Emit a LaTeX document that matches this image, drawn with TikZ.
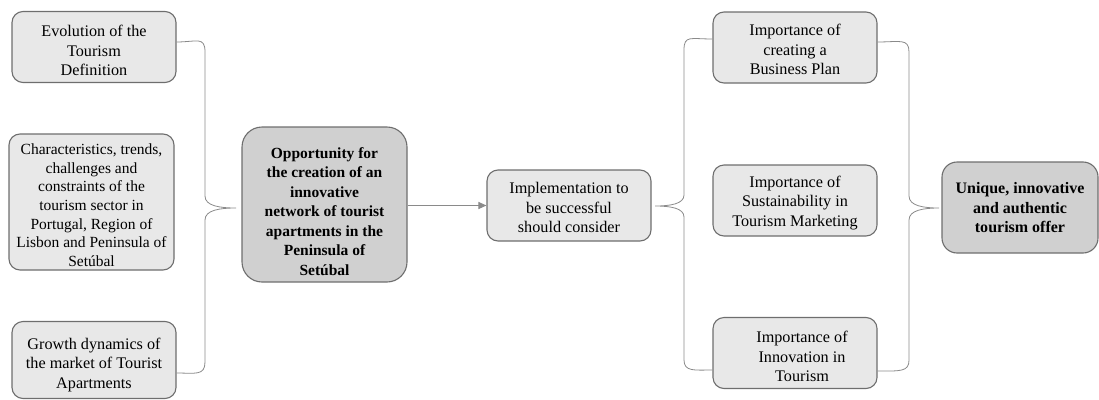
\documentclass[tikz,border=0pt]{standalone}
\usepackage{fontspec}
\setmainfont{Liberation Serif}
\usetikzlibrary{arrows.meta}
\definecolor{lightbox}{HTML}{E8E8E8}
\definecolor{darkbox}{HTML}{D0D0D0}
\definecolor{boxline}{HTML}{6E6E6E}
\definecolor{connline}{HTML}{8A8A8A}
\newcommand\dnr[1]{\rule{0pt}{#1}}
\begin{document}
\begin{tikzpicture}[x=1pt,y=-1pt,
  lbox/.style={draw=boxline,line width=1.1pt,fill=lightbox,rounded corners=11pt,
    align=center,inner sep=0pt,font=\fontsize{16.2}{19.5}\selectfont},
  dbox/.style={draw=boxline,line width=1.1pt,fill=darkbox,rounded corners=20pt,
    align=center,inner sep=0pt,font=\fontsize{15.5}{19.5}\selectfont\bfseries},
  brace/.style={draw=connline,line width=0.8pt},
  arrowline/.style={draw=connline,line width=1pt,-{Triangle[length=8pt,width=7pt]}}]
\useasboundingbox (0,0) rectangle (1099,399);
% left boxes
\node[lbox,minimum width=164pt,minimum height=71pt] (A) at (94,47)
  {\dnr{19pt}Evolution of the\\Tourism\\Definition};
\node[lbox,minimum width=165pt,minimum height=136pt,font=\fontsize{15.5}{18.6}\selectfont] (B) at (91.5,202)
  {\dnr{17pt}Characteristics, trends,\\challenges and\\constraints of the\\tourism sector in\\Portugal,\ Region of\\Lisbon and Peninsula of\\Setúbal};
\node[lbox,minimum width=164pt,minimum height=77pt] (C) at (94,360)
  {\dnr{21pt}Growth dynamics of\\the market of Tourist\\Apartments};
% central
\node[dbox,minimum width=165pt,minimum height=155pt] (M) at (324.5,204.5)
  {\dnr{25pt}Opportunity for\\the creation of an\\innovative\\network of tourist\\apartments in the\\Peninsula of\\Setúbal};
\node[lbox,minimum width=164pt,minimum height=71pt] (I) at (569,205.5)
  {\dnr{16pt}Implementation to\\be successful\\should consider};
% right boxes
\node[lbox,minimum width=164pt,minimum height=71pt] (R1) at (795,47.5)
  {\dnr{16pt}Importance of\\creating a\\Business Plan};
\node[lbox,minimum width=164pt,minimum height=71pt] (R2) at (795,200.5)
  {\dnr{16pt}Importance of\\Sustainability in\\Tourism Marketing};
\node[lbox,minimum width=164pt,minimum height=71pt] (R3) at (795,353)
  {\dnr{19pt}\hspace*{14pt}Importance of\\\hspace*{14pt}Innovation in\\\hspace*{14pt}Tourism};
\node[dbox,minimum width=156pt,minimum height=91pt,rounded corners=15pt,
  font=\fontsize{16}{19.5}\selectfont\bfseries] (F) at (1020,207.5)
  {\dnr{12pt}Unique, innovative\\and authentic\\tourism offer};
% brace tips
\coordinate (t1) at (236,208);
\coordinate (t2) at (655,206);
\coordinate (t3) at (939,208);
% left brace
\draw[brace] ([yshift=5pt]A.east) .. controls +(20,0) and (205,36) .. (205,52) -- (205,196)
  .. controls (205,206) and (220,208) .. (t1)
  .. controls (220,208) and (205,210) .. (205,220) -- (205,362)
  .. controls (205,376) and (195,373) .. ([yshift=-13pt]C.east);
% arrow
\draw[arrowline] (M.east |- I.west) -- (I.west);
% right brace 1
\draw[brace] ([yshift=8.5pt]R1.west) .. controls +(-22,0) and (684,35) .. (684,50) -- (684,195)
  .. controls (684,204) and (670,206) .. (t2)
  .. controls (670,206) and (684,208) .. (684,217) -- (684,360)
  .. controls (684,372) and (695,370) .. ([yshift=-17pt]R3.west);
% right brace 2
\draw[brace] ([yshift=5.5pt]R1.east) .. controls +(22,0) and (909,38) .. (909,52) -- (909,196)
  .. controls (909,206) and (924,208) .. (t3)
  .. controls (924,208) and (909,210) .. (909,220) -- (909,360)
  .. controls (909,372) and (900,371) .. ([yshift=-18pt]R3.east);
\end{tikzpicture}
\end{document}
